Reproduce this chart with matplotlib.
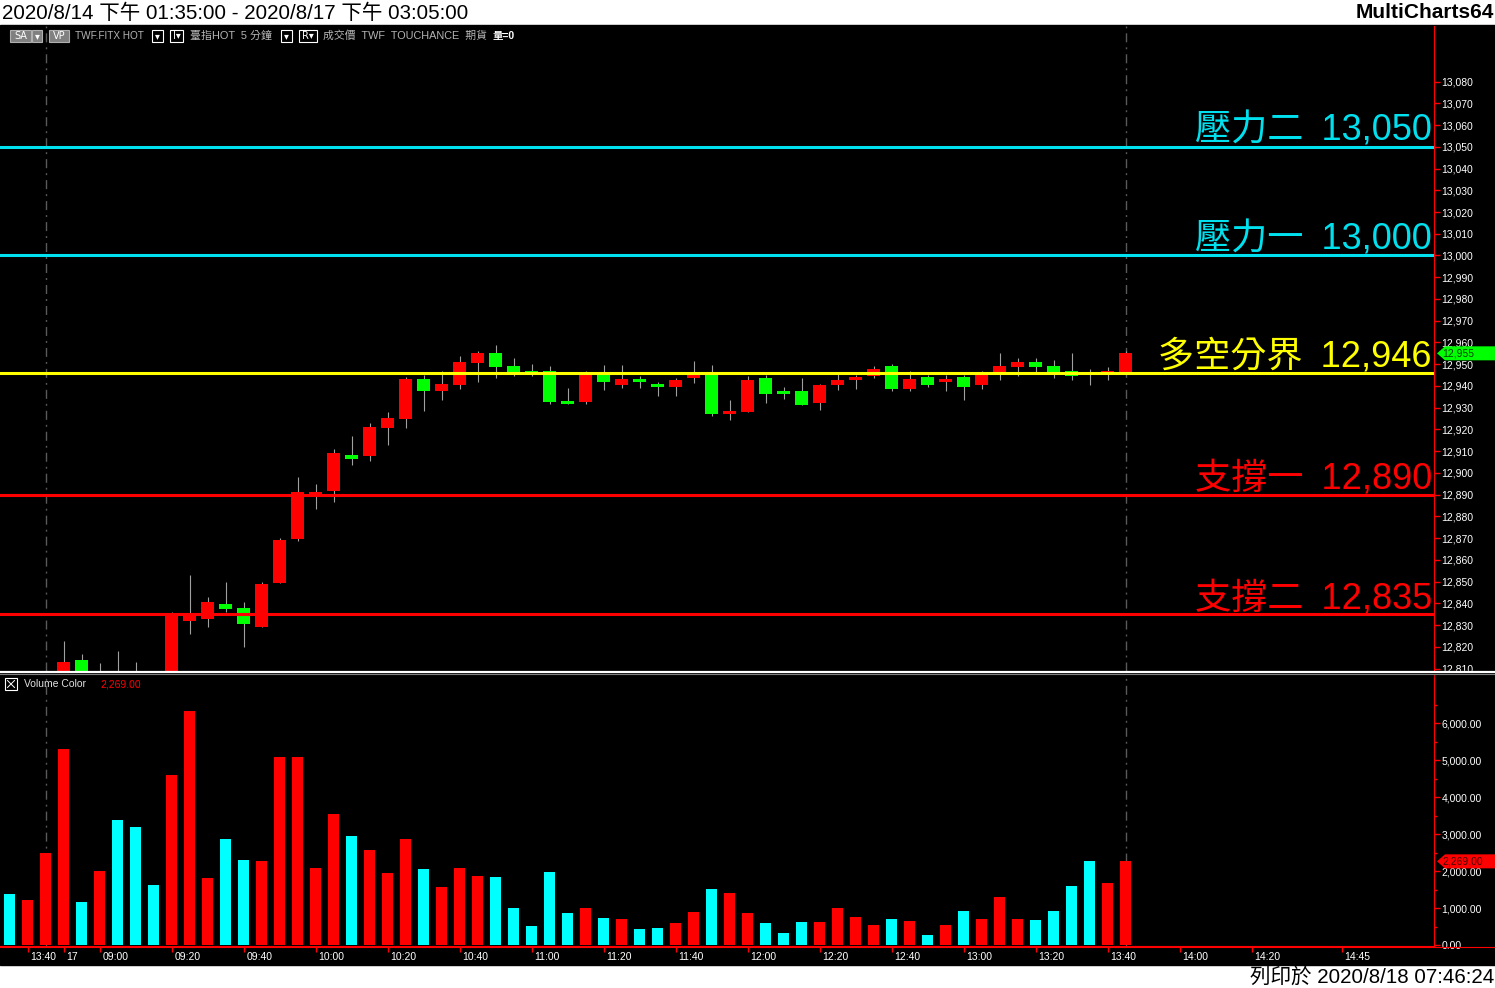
import matplotlib
matplotlib.use("Agg")
import matplotlib.pyplot as plt
import matplotlib.transforms as mtransforms
from matplotlib.patches import Rectangle, Polygon
from matplotlib.lines import Line2D

# ---------------- data (5-minute bars, TWF.FITX HOT) ----------------
opens = [12800, 12796, 12798, 12796, 12814, 12800, 12806, 12803, 12800, 12795,
         12832, 12832.6, 12839.5, 12838, 12829, 12849.5, 12869.7, 12890, 12891.7, 12908.3,
         12907.8, 12920.6, 12924.8, 12943, 12937.6, 12940.4, 12950.5, 12955, 12949, 12946.8,
         12946.8, 12933.3, 12932.6, 12945.4, 12940.4, 12943, 12940.8, 12939.4, 12943.6, 12945.1,
         12927.1, 12928, 12943.7, 12937.7, 12937.7, 12932.2, 12940.4, 12942.7, 12944.5, 12949,
         12938.5, 12944, 12941.7, 12944, 12940.4, 12946.3, 12948.6, 12951, 12949, 12946.8,
         12946.3, 12946.3, 12946.3]
highs = [12806, 12804, 12805, 12822.5, 12816.5, 12812.5, 12818, 12813, 12808, 12836,
         12853, 12843, 12850, 12840.4, 12850, 12870.2, 12898, 12895, 12911, 12917,
         12923, 12928, 12944, 12945, 12946.8, 12954, 12956, 12959, 12953, 12950,
         12949, 12939, 12946.8, 12949.6, 12949.6, 12944.6, 12942, 12943.7, 12951.5, 12949.6,
         12933.5, 12944.6, 12945, 12939.5, 12943.7, 12941, 12946.4, 12945, 12949, 12950,
         12946.8, 12945, 12945, 12945, 12946.8, 12955, 12953, 12953, 12952, 12955,
         12948, 12948.6, 12956]
lows = [12790, 12790, 12794, 12790, 12800, 12795, 12798, 12795, 12790, 12790,
        12826, 12829, 12835.8, 12819.7, 12829, 12849.5, 12868.8, 12883.5, 12886.7, 12903.7,
        12905.5, 12913, 12920.6, 12928.4, 12933.5, 12938.5, 12941.7, 12943.6, 12944.5, 12944.5,
        12931.7, 12931.7, 12931.7, 12938.1, 12939, 12939, 12935.4, 12935.4, 12941.4, 12926.4,
        12924.3, 12928, 12932.2, 12934, 12931.2, 12928.9, 12938.1, 12938.5, 12943.6, 12937.6,
        12937.6, 12939.5, 12937.6, 12933.5, 12938.5, 12942.7, 12944.5, 12946.3, 12943.6, 12942.7,
        12940.4, 12942.7, 12946]
closes = [12796, 12800, 12802, 12813, 12804, 12806, 12800, 12798, 12795, 12835.5,
          12835, 12840.4, 12837.6, 12830.7, 12849, 12869.3, 12891.3, 12891.3, 12909, 12906.4,
          12921, 12925.2, 12943, 12937.6, 12940.8, 12951, 12955, 12948.6, 12945.9, 12945.4,
          12932.6, 12931.7, 12945.4, 12941.7, 12943, 12941.7, 12939.4, 12942.7, 12945, 12927,
          12928.5, 12942.7, 12936.3, 12936.3, 12931.2, 12940.4, 12942.7, 12944, 12948, 12938.5,
          12943, 12940.4, 12943, 12939.4, 12945, 12949, 12951, 12948.6, 12946.3, 12944.5,
          12945.9, 12946.8, 12955]
volumes = [1386, 1224, 2494, 5305, 1170, 2008, 3386, 3197, 1630, 4602,
           6332, 1819, 2873, 2305, 2278, 5089, 5089, 2090, 3550, 2960,
           2580, 1960, 2880, 2060, 1580, 2090, 1870, 1850, 1010, 520,
           1980, 870, 1010, 740, 710, 440, 470, 600, 900, 1520,
           1410, 870, 600, 330, 630, 630, 1010, 770, 550, 710,
           660, 280, 550, 930, 710, 1310, 710, 680, 930, 1600,
           2280, 1690, 2269]
tick_bars = [1, 3, 5, 9, 13, 17, 21, 25, 29, 33, 37, 41, 45, 49, 53, 57, 61, 65, 69, 74]
tick_labels = ["13:40", "17", "09:00", "09:20", "09:40", "10:00", "10:20", "10:40",
               "11:00", "11:20", "11:40", "12:00", "12:20", "12:40", "13:00", "13:20",
               "13:40", "14:00", "14:20", "14:45"]
session_breaks = [2, 62]
level_names = ["壓力二", "壓力一", "多空分界", "支撐一", "支撐二"]
level_values = [13050, 13000, 12946, 12890, 12835]
level_colors = ["#00e1f0", "#00e1f0", "#ffff00", "#ff0000", "#ff0000"]
price_ticks = list(range(12810, 13081, 10))
volume_ticks = [0, 1000, 2000, 3000, 4000, 5000, 6000]

# ---------------- layout ----------------
W, H = 1495, 988
fig = plt.figure(figsize=(W / 100, H / 100), dpi=100, facecolor="white")

def frac(x0, y0, x1, y1):
    return [x0 / W, 1 - y1 / H, (x1 - x0) / W, (y1 - y0) / H]

CJK = ["Liberation Sans", "Noto Sans CJK TC", "DejaVu Sans"]

bg = fig.add_axes([0, 0, 1, 1], zorder=-10)
bg.set_xlim(0, W); bg.set_ylim(H, 0); bg.axis("off")
bg.add_patch(Rectangle((0, 25), W, 940, color="black"))

n = len(closes)
xs = list(range(n))
XL = (-9.5 / 18, (1434 - 9.5) / 18)

# price panel
ax = fig.add_axes(frac(0, 26, 1434, 671), facecolor="black")
ax.set_xlim(*XL)
ax.set_ylim(13000 - (671 - 255.5) / 2.174, 13000 + (255.5 - 26) / 2.174)
for s in ["top", "left", "bottom"]:
    ax.spines[s].set_visible(False)
ax.spines["right"].set_color("#ff0000")
ax.set_xticks([])
ax.yaxis.tick_right()
ax.set_yticks(price_ticks)
ax.set_yticklabels([f"{v:,}" for v in price_ticks])
ax.tick_params(axis="y", colors="#ff0000", labelcolor="white", labelsize=7.5,
               length=4, width=1, pad=1.5)
for lab in ax.get_yticklabels():
    lab.set_family("Liberation Sans")

wick_c = "#a0a0a0"
ax.vlines(xs, lows, highs, color=wick_c, lw=0.8, zorder=2)
up = [c >= o for o, c in zip(opens, closes)]
bottoms = [min(o, c) for o, c in zip(opens, closes)]
heights = [max(abs(c - o), 0.5) for o, c in zip(opens, closes)]
ax.bar(xs, heights, bottom=bottoms, width=0.72,
       color=["#ff0000" if u else "#00ff00" for u in up], zorder=3, linewidth=0)

dash = (0, (6.5, 3.6, 1.4, 3.6))
for b in session_breaks:
    ax.axvline(b, color="#5a5a5a", lw=1, ls=dash, zorder=1)

for name, val, col in zip(level_names, level_values, level_colors):
    ax.axhline(val, color=col, lw=2.2, zorder=4)
    tr = mtransforms.offset_copy(ax.get_yaxis_transform(), fig=fig, x=-2, y=6, units="dots")
    ax.text(1.0, val, f"{name}\u2002{val:,}", transform=tr, ha="right", va="baseline",
            fontsize=26, color=col, family=CJK, zorder=5)

# volume panel
av = fig.add_axes(frac(0, 675, 1434, 946), facecolor="black")
av.set_xlim(*XL)
av.set_ylim((945.3 - 946) / 0.037, (945.3 - 675) / 0.037)
for s in ["top", "left"]:
    av.spines[s].set_visible(False)
av.spines["right"].set_color("#ff0000")
av.spines["bottom"].set_color("#ff0000")
av.yaxis.tick_right()
av.set_yticks(volume_ticks)
av.set_yticklabels([f"{v:,.2f}" for v in volume_ticks])
av.set_yticks([500, 1500, 2500, 3500, 4500, 5500, 6500], minor=True)
av.tick_params(axis="y", which="major", colors="#ff0000", labelcolor="white",
               labelsize=7.5, length=4, width=1, pad=1.5)
av.tick_params(axis="y", which="minor", colors="#ff0000", length=2, width=1)
for lab in av.get_yticklabels():
    lab.set_family("Liberation Sans")
av.set_xticks(tick_bars)
av.set_xticklabels([""] * len(tick_bars))
av.tick_params(axis="x", colors="#ff0000", length=4, width=1)
av.bar(xs, volumes, width=0.63,
       color=["#ff0000" if u else "#00ffff" for u in up], linewidth=0, zorder=3)
for b in session_breaks:
    av.axvline(b, color="#5a5a5a", lw=1, ls=dash, zorder=1)
ttr = mtransforms.offset_copy(av.get_xaxis_transform(), fig=fig, x=3, y=-11, units="dots")
for b, lab in zip(tick_bars, tick_labels):
    av.text(b, 0, lab, transform=ttr, ha="left", va="center", fontsize=7.5,
            color="white", family="Liberation Sans", clip_on=False)

# ---------------- foreground decorations ----------------
fg = fig.add_axes([0, 0, 1, 1], zorder=10)
fg.set_xlim(0, W); fg.set_ylim(H, 0); fg.axis("off")
fg.patch.set_visible(False)

fg.text(2, 13, "2020/8/14 下午 01:35:00 - 2020/8/17 下午 03:05:00", ha="left", va="center",
        fontsize=14.75, color="black", family=CJK)
fg.text(1494, 13, "MultiCharts64", ha="right", va="center", fontsize=15,
        fontweight="bold", color="black", family="Liberation Sans")
fg.text(1494, 977, "列印於 2020/8/18 07:46:24", ha="right", va="center",
        fontsize=14.8, color="black", family=CJK)

# separator between panels
fg.add_patch(Rectangle((1434.5, 670.5), W - 1434.5, 6, color="black"))
fg.add_line(Line2D([0, W], [672, 672], color="white", lw=1.6))
fg.add_line(Line2D([0, W], [674, 674], color="#808080", lw=0.8))
fg.add_line(Line2D([0, W], [946.5, 946.5], color="#ff0000", lw=0.8))

# header toolbar
hdr_y = 36
def box(x, w, fill, edge, txt, tcol="white"):
    fg.add_patch(Rectangle((x, 30), w, 12, facecolor=fill, edgecolor=edge, lw=0.8))
    fg.text(x + w / 2, hdr_y, txt, ha="center", va="center", fontsize=7,
            color=tcol, family=["DejaVu Sans"])
box(10, 21, "#808080", "#b0b0b0", "SA")
box(32, 10, "#808080", "#b0b0b0", "▾")
box(49, 20, "#808080", "#b0b0b0", "VP")
fg.text(75, hdr_y, "TWF.FITX HOT", ha="left", va="center", fontsize=7.2, color="#b4b4b4",
        family="Liberation Sans")
box(152, 11, "black", "white", "▾")
box(170, 13, "black", "white", "I▾")
fg.text(190, hdr_y, "臺指HOT  5 分鐘", ha="left", va="center", fontsize=7.9, color="#b4b4b4",
        family=CJK)
box(281, 11, "black", "white", "▾")
box(299, 18, "black", "white", "R▾")
fg.text(323, hdr_y, "成交價  TWF  TOUCHANCE  期貨", ha="left", va="center", fontsize=7.8,
        color="#b4b4b4", family=CJK)
fg.text(493, hdr_y, "量=0", ha="left", va="center", fontsize=7.5, color="white",
        family=CJK, fontweight="bold")

# volume legend
fg.add_patch(Rectangle((5, 678), 12, 12, facecolor="black", edgecolor="white", lw=0.8))
fg.add_line(Line2D([7.5, 14.5], [680.5, 687.5], color="white", lw=0.7))
fg.add_line(Line2D([7.5, 14.5], [687.5, 680.5], color="white", lw=0.7))
fg.text(24, 684, "Volume Color", ha="left", va="center", fontsize=7.5, color="#e0e0e0",
        family="Liberation Sans")
fg.text(100, 684, f"{volumes[-1]:,.2f}", ha="left", va="center", fontsize=7.5,
        color="#ff0000", family="Liberation Sans")

# last value markers on the right axes
def marker(axes, val, txt, fill, tcol):
    ypx = H - axes.transData.transform((0, val))[1]
    fg.add_patch(Polygon([(1437, ypx), (1445, ypx - 7), (W, ypx - 7), (W, ypx + 7),
                          (1445, ypx + 7)], closed=True, facecolor=fill, edgecolor="none"))
    fg.text(1442, ypx, txt, ha="left", va="center", fontsize=7.5, color=tcol,
            family="Liberation Sans")
marker(ax, closes[-1], f"{closes[-1]:,.0f}", "#00ff00", "#004000")
marker(av, volumes[-1], f"{volumes[-1]:,.2f}", "#ff0000", "#400000")

fig.savefig("out.png", dpi=100, facecolor="white")
